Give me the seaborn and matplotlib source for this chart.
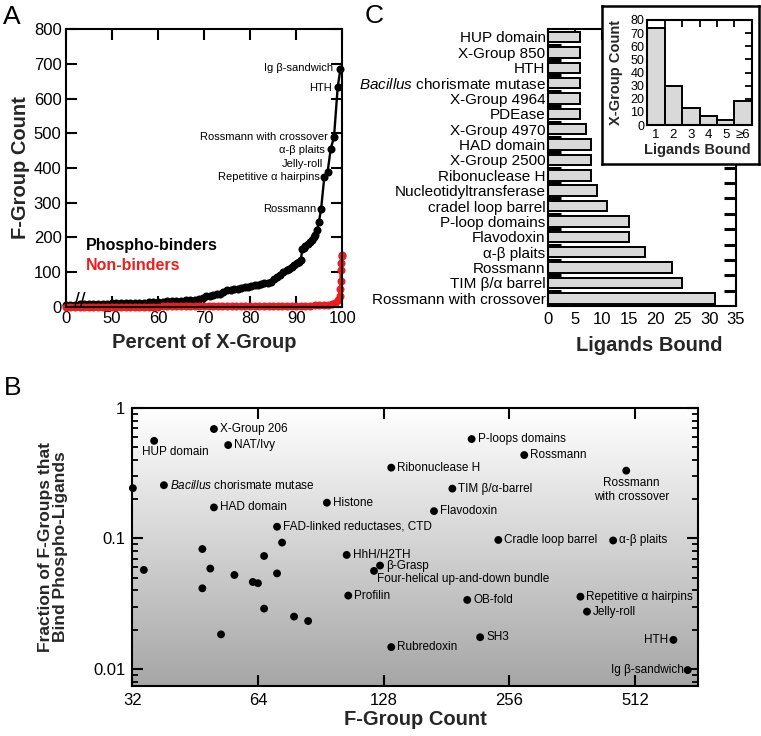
import numpy as np
import pandas as pd
import matplotlib
matplotlib.use("Agg")
import matplotlib.pyplot as plt
import seaborn as sns
from matplotlib.colors import LinearSegmentedColormap
from matplotlib.ticker import LogLocator, NullLocator, NullFormatter, FixedLocator

# ---------------- DATA ----------------
# Panel A: F-group count vs percent of X-groups (axis broken: "0" drawn at 40)
black_pct = [40, 41, 42, 43, 44, 45, 46, 47, 48, 49, 50, 51, 52, 53, 54, 55, 56, 57, 58, 59,
             60, 61, 62, 63, 64, 65, 66, 67, 68, 69, 69.8, 70.5, 71.2, 72, 72.8, 73.5, 74.2,
             75, 75.8, 76.5, 77.3, 78, 78.8, 79.5, 80.2, 81, 81.7, 82.4, 83.1, 83.8, 84.5,
             85.2, 85.9, 86.5, 87.2, 87.9, 88.5, 89.0, 89.5, 90.1, 90.6, 91.0, 91.3, 91.6,
             92.0, 92.6, 93.0, 93.4, 93.8, 94.1, 94.5, 94.9, 95.4, 96.1, 96.8, 97.5, 98.2,
             99.0, 99.6]
black_count = [6, 6, 6, 7, 7, 7, 7, 8, 8, 9, 10, 10, 10, 11, 11, 12, 12, 12, 13, 13,
               14, 14, 15, 15, 16, 17, 18, 19, 20, 22, 25, 30, 32, 34, 36, 38, 42,
               47, 48, 50, 52, 54, 56, 58, 61, 62, 63, 65, 67, 69, 72,
               80, 85, 91, 100, 106, 110, 115, 120, 125, 130, 135, 165, 170,
               176, 181, 187, 192, 200, 207, 222, 243, 281, 375, 388, 456, 489,
               633, 686]
red_pct = [40, 41, 42, 43, 44, 45, 46, 47, 48, 49, 50, 51, 52, 53, 54, 55, 56, 57, 58, 59,
           60, 61, 62, 63, 64, 65, 66, 67, 68, 69, 70, 71, 72, 73, 74, 75, 76, 77, 78, 79,
           80, 81, 82, 83, 84, 85, 86, 87, 88, 89, 90, 91, 92, 93, 94, 95, 96, 96.8, 97.7,
           98.5, 99.0, 99.4, 99.6, 99.7, 99.75, 99.8, 99.85, 99.9]
red_count = [0, 0, 0, 0, 0, 0, 0, 0, 0, 0.5, 0.5, 0.5, 0.5, 0.5, 0.5, 0.5, 0.5, 0.5, 0.5, 0.5,
             0.5, 1, 1, 1, 1, 1, 1, 1, 1, 1, 1, 1, 1, 1, 1, 1, 1.5, 1.5, 1.5, 1.5,
             1.5, 1.5, 1.5, 2, 2, 2, 2, 2, 2, 2, 2.5, 2.5, 3, 3, 3.5, 4, 5, 6, 8,
             12, 18, 30, 50, 75, 105, 125, 145, 150]
a_xticks = [40, 50, 60, 70, 80, 90, 100]
a_xticklabels = ["0", "50", "60", "70", "80", "90", "100"]
a_labels = ["Ig β-sandwich", "HTH", "Rossmann with crossover", "α-β plaits",
            "Jelly-roll", "Repetitive α hairpins", "Rossmann"]
a_label_pct = [99.6, 99.0, 98.2, 97.5, 96.8, 96.1, 95.4]
a_label_count = [686, 633, 489, 456, 388, 375, 281]

# Panel B: fraction of F-groups binding phospho-ligands vs F-group count
b_names = ["HUP domain", "X-Group 206", "NAT/Ivy", r"$\it{Bacillus}$ chorismate mutase",
           "HAD domain", "Histone", "FAD-linked reductases, CTD", "HhH/H2TH", "β-Grasp",
           "Four-helical up-and-down bundle", "Profilin", "Ribonuclease H", "Rubredoxin",
           "P-loops domains", "Rossmann", "Rossmann\nwith crossover", "TIM β/α-barrel",
           "Flavodoxin", "Cradle loop barrel", "α-β plaits", "Repetitive α hairpins",
           "Jelly-roll", "OB-fold", "SH3", "HTH", "Ig β-sandwich",
           "", "", "", "", "", "", "", "", "", "", "", "", "", "", ""]
b_count = [36.1, 50.2, 54.3, 38.1, 50.2, 93.6, 71.1, 104.4, 125.5, 121.4, 105.3, 133.5, 133.5,
           208, 278, 488, 187, 169, 241, 454, 379, 393, 203, 218, 633, 685,
           32.1, 34.1, 47.1, 47.1, 49.2, 52.2, 56.2, 62.2, 64.0, 66.2, 66.2, 71.1, 73.1, 78.1, 84.4]
b_fraction = [0.56, 0.69, 0.52, 0.256, 0.173, 0.188, 0.123, 0.0748, 0.062, 0.0564, 0.0365,
              0.349, 0.0147, 0.578, 0.436, 0.331, 0.241, 0.162, 0.0974, 0.0965, 0.0358,
              0.0275, 0.0338, 0.0175, 0.0167, 0.0098,
              0.243, 0.0574, 0.083, 0.0415, 0.0588, 0.0184, 0.0525, 0.0464, 0.0454, 0.0734,
              0.029, 0.054, 0.093, 0.0252, 0.0233]
b_xticks = [32, 64, 128, 256, 512]
b_yticks = [0.01, 0.1, 1]
b_yticklabels = ["0.01", "0.1", "1"]

# Panel C: ligands bound per X-group
c_names = ["HUP domain", "X-Group 850", "HTH", r"$\it{Bacillus}$ chorismate mutase",
           "X-Group 4964", "PDEase", "X-Group 4970", "HAD domain", "X-Group 2500",
           "Ribonuclease H", "Nucleotidyltransferase", "cradel loop barrel",
           "P-loop domains", "Flavodoxin", "α-β plaits", "Rossmann", "TIM β/α barrel",
           "Rossmann with crossover"]
c_ligands = [6, 6, 6, 6, 6, 6, 7, 8, 8, 8, 9, 11, 15, 15, 18, 23, 25, 31]
c_xticks = [0, 5, 10, 15, 20, 25, 30, 35]

# Panel C inset: histogram of ligands bound
inset_bins = ["1", "2", "3", "4", "5", "≥6"]
inset_counts = [74, 30, 13, 7, 4, 18]

# ---------------- STYLE ----------------
sns.set_theme(style="white")
plt.rcParams['font.family'] = ['Liberation Sans', 'DejaVu Sans']
plt.rcParams['mathtext.fontset'] = 'custom'
plt.rcParams['mathtext.rm'] = 'Liberation Sans'
plt.rcParams['mathtext.it'] = 'Liberation Sans:italic'
plt.rcParams['axes.linewidth'] = 1.5
plt.rcParams['axes.edgecolor'] = 'black'
plt.rcParams['text.color'] = 'black'
plt.rcParams['xtick.color'] = 'black'
plt.rcParams['ytick.color'] = 'black'
plt.rcParams['xtick.bottom'] = True
plt.rcParams['ytick.left'] = True

W, H = 761, 736
fig = plt.figure(figsize=(W / 100, H / 100), dpi=100)
fig.patch.set_facecolor('white')


def fpos(l, t, r, b):
    return [l / W, 1 - b / H, (r - l) / W, (b - t) / H]


GRAY_BAR = '#d9d9d9'
RED = '#ee1d1d'

# ---------------- PANEL A ----------------
axA = fig.add_axes(fpos(65.7, 29.3, 342.3, 306.7))
dfb = pd.DataFrame({'pct': black_pct, 'count': black_count})
dfr = pd.DataFrame({'pct': red_pct, 'count': red_count})
sns.lineplot(data=dfb, x='pct', y='count', sort=False, color='black', lw=1.7,
             marker='o', markersize=5.8, markeredgewidth=0, ax=axA, clip_on=False)
sns.lineplot(data=dfr, x='pct', y='count', sort=False, color=RED, lw=2.5,
             marker='o', markersize=5.8, markeredgewidth=0, ax=axA, clip_on=False)
axA.set_xlim(40, 100)
axA.set_ylim(0, 800)
axA.set_xticks(a_xticks)
axA.set_xticklabels(a_xticklabels)
axA.set_yticks(range(0, 801, 100))
axA.tick_params(direction='in', length=8, width=1.5, top=True, right=True,
                bottom=True, left=True, labelsize=12, pad=3)
axA.set_xlabel('Percent of X-Group', fontsize=14.5, fontweight='bold')
axA.set_ylabel('F-Group Count', fontsize=14.5, fontweight='bold')
axA.xaxis.set_label_coords(0.5, -0.095)
axA.yaxis.set_label_coords(-0.13, 0.5)
for name, xp, yc, off in zip(a_labels, a_label_pct, a_label_count,
                             [(-5, 0.7), (-4.3, -0.7), (-4.3, 0), (-4.3, -1),
                              (-3.2, 5.8), (-3.1, 0), (-3.6, 0)]):
    axA.annotate(name, (xp, yc), xytext=off, textcoords='offset points',
                 ha='right', va='center', fontsize=8)
axA.text(44.4, 176, 'Phospho-binders', fontsize=11.5, fontweight='bold',
         color='black', va='center', ha='left')
axA.text(44.4, 120, 'Non-binders', fontsize=11.5, fontweight='bold',
         color=RED, va='center', ha='left')
axA.text(43.1, 14, '//', fontsize=15, ha='center', va='center', clip_on=False, zorder=5)

# ---------------- PANEL B ----------------
posB = fpos(132.3, 408, 698, 686)
bg = fig.add_axes(posB, zorder=0)
grad = np.linspace(0, 1, 256).reshape(-1, 1)
cmap = LinearSegmentedColormap.from_list('g', ['#ffffff', '#a6a6a6'])
bg.imshow(grad, aspect='auto', cmap=cmap, extent=[0, 1, 0, 1])
bg.axis('off')

axB = fig.add_axes(posB, zorder=1)
axB.set_facecolor('none')
dfB = pd.DataFrame({'count': b_count, 'fraction': b_fraction})
sns.scatterplot(data=dfB, x='count', y='fraction', color='black', s=32,
                edgecolor='none', ax=axB, clip_on=False, zorder=3)
axB.set_xscale('log', base=2)
axB.set_yscale('log')
axB.set_xlim(32, 725)
axB.set_ylim(0.0074, 1.0)
axB.xaxis.set_major_locator(FixedLocator(b_xticks))
axB.set_xticklabels([str(v) for v in b_xticks])
axB.xaxis.set_minor_locator(NullLocator())
axB.yaxis.set_major_locator(FixedLocator(b_yticks))
axB.set_yticklabels(b_yticklabels)
axB.yaxis.set_minor_locator(LogLocator(base=10, subs=np.arange(2, 10)))
axB.yaxis.set_minor_formatter(NullFormatter())
axB.tick_params(which='major', direction='in', length=8, width=1.5, top=True,
                right=True, bottom=True, left=True, labelsize=12, pad=5)
axB.tick_params(which='minor', direction='in', length=4.5, width=1.3, top=True,
                right=True, bottom=True, left=True)
axB.set_xlabel('F-Group Count', fontsize=14.5, fontweight='bold')
axB.set_ylabel('Fraction of F-Groups that\nBind Phospho-Ligands', fontsize=12.5,
               fontweight='bold', linespacing=1.0)
axB.xaxis.set_label_coords(0.5, -0.085)
axB.yaxis.set_label_coords(-0.113, 0.5)
for sp in axB.spines.values():
    sp.set_zorder(4)

special = {
    "HUP domain": ((-9, -8), 'left', 'center'),
    "Rossmann\nwith crossover": ((3.6, -4.8), 'center', 'top'),
    "HTH": ((-3.6, 0), 'right', 'center'),
    "Ig β-sandwich": ((-3, 0), 'right', 'center'),
    "Four-helical up-and-down bundle": ((2, -6), 'left', 'center'),
}
for name, xc, yf in zip(b_names, b_count, b_fraction):
    if not name:
        continue
    off, ha, va = special.get(name, ((4.3, 0), 'left', 'center'))
    axB.annotate(name, (xc, yf), xytext=off, textcoords='offset points',
                 ha=ha, va=va, fontsize=8.5, multialignment='center', zorder=5)

# ---------------- PANEL C ----------------
axC = fig.add_axes(fpos(548.3, 29.3, 736, 306), zorder=1)
dfC = pd.DataFrame({'name': c_names, 'lig': c_ligands})
sns.barplot(data=dfC, x='lig', y='name', orient='h', color=GRAY_BAR, saturation=1,
            edgecolor='black', linewidth=1.4, width=0.68, ax=axC)
axC.set_xlim(0, 35)
axC.set_ylim(len(c_names) - 0.5, -0.5)
axC.set_xticks(c_xticks)
axC.set_xticklabels([str(v) for v in c_xticks])
axC.set_yticks(np.arange(0.5, len(c_names) - 1, 1), minor=True)
axC.tick_params(axis='x', which='major', direction='in', length=8, width=1.5,
                top=True, bottom=True, labelsize=12, pad=4)
axC.tick_params(axis='y', which='major', length=0, labelsize=11, pad=2)
axC.tick_params(axis='y', which='minor', direction='in', length=9, width=2.2,
                left=True, right=True)
axC.set_xlabel('Ligands Bound', fontsize=14.5, fontweight='bold')
axC.set_ylabel('')
axC.xaxis.set_label_coords(0.538, -0.11)

# inset frame
frame = fig.add_axes(fpos(602.3, 6, 759.3, 164.3), zorder=3)
frame.set_facecolor('white')
frame.set_xticks([])
frame.set_yticks([])
frame.tick_params(left=False, bottom=False)
for sp in frame.spines.values():
    sp.set_linewidth(1.8)

axI = fig.add_axes(fpos(647.3, 20, 751.7, 125), zorder=4)
dfI = pd.DataFrame({'bin': inset_bins, 'n': inset_counts})
sns.barplot(data=dfI, x='bin', y='n', color=GRAY_BAR, saturation=1, edgecolor='black',
            linewidth=1.4, width=1.0, ax=axI)
axI.set_xlim(-0.5, 5.5)
axI.set_ylim(0, 80)
axI.set_yticks(range(0, 81, 10))
axI.set_xticks(np.arange(0.5, 5, 1), minor=True)
axI.tick_params(axis='y', direction='in', length=5, width=1.3, right=True, left=True,
                labelsize=9, pad=2)
axI.tick_params(axis='x', which='major', length=0, labelsize=9.5, pad=3)
axI.tick_params(axis='x', which='minor', direction='in', length=5, width=1.3,
                top=True, bottom=True)
axI.set_xlabel('Ligands Bound', fontsize=10.5, fontweight='bold')
axI.set_ylabel('X-Group Count', fontsize=10.5, fontweight='bold')
axI.xaxis.set_label_coords(0.48, -0.17)
axI.yaxis.set_label_coords(-0.23, 0.5)

# panel letters
fig.text(3 / W, 1 - 5 / H, 'A', fontsize=19, va='top', ha='left')
fig.text(4 / W, 1 - 376 / H, 'B', fontsize=19, va='top', ha='left')
fig.text(365 / W, 1 - 4 / H, 'C', fontsize=19, va='top', ha='left')

fig.savefig('out.png', dpi=100, facecolor='white')
